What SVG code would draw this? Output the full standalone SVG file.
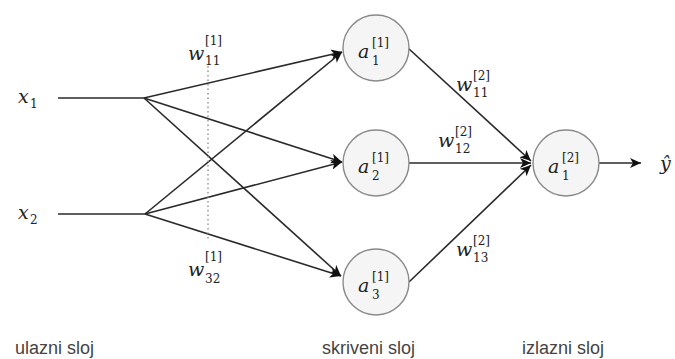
<svg xmlns="http://www.w3.org/2000/svg" width="675" height="359" viewBox="0 0 675 359">
<defs>
<marker id="arr" markerUnits="userSpaceOnUse" markerWidth="12" markerHeight="10" refX="11" refY="5" orient="auto">
<path d="M0,0 L11,5 L0,10 L3,5 Z" fill="#111"/>
</marker>
<style>
.e{stroke:#2a2a2a;stroke-width:1.6;fill:none}
.n{fill:#f5f5f5;stroke:#8a8a8a;stroke-width:1.4}
.m{font-family:'DejaVu Serif','Liberation Serif',serif;font-style:italic;fill:#222;font-size:19px}
.s{font-family:'DejaVu Serif','Liberation Serif',serif;fill:#222;font-size:12px}
.l{font-family:'Liberation Sans',Arial,sans-serif;font-size:18px;fill:#444}
</style>
</defs>
<g id="connectors">
<line class="e" x1="58" y1="98" x2="144" y2="98"/>
<line class="e" x1="58" y1="214" x2="145" y2="214"/>
<line class="e" x1="144" y1="98" x2="342" y2="52" marker-end="url(#arr)"/>
<line class="e" x1="144" y1="98" x2="342" y2="162" marker-end="url(#arr)"/>
<line class="e" x1="144" y1="98" x2="341" y2="276" marker-end="url(#arr)"/>
<line class="e" x1="145" y1="214" x2="342" y2="52" marker-end="url(#arr)"/>
<line class="e" x1="145" y1="214" x2="342" y2="162" marker-end="url(#arr)"/>
<line class="e" x1="145" y1="214" x2="341" y2="276" marker-end="url(#arr)"/>
<line class="e" x1="408" y1="48" x2="531" y2="161" marker-end="url(#arr)"/>
<line class="e" x1="409" y1="163" x2="531" y2="163" marker-end="url(#arr)"/>
<line class="e" x1="409" y1="282" x2="531" y2="165" marker-end="url(#arr)"/>
<line class="e" x1="599" y1="163" x2="641" y2="163" marker-end="url(#arr)"/>
<line x1="208" y1="66" x2="208" y2="241" stroke="#888" stroke-width="1.3" stroke-dasharray="1.5,3"/>
</g>
<g id="x1"><text class="m" x="18" y="103">x</text><text class="s" x="30" y="108">1</text></g>
<g id="x2"><text class="m" x="18" y="219">x</text><text class="s" x="30" y="224">2</text></g>
<g id="a11">
<circle class="n" cx="376" cy="48" r="33"/>
<text class="m" x="358" y="58">a</text><text class="s" x="372" y="47">[1]</text><text class="s" x="372" y="65">1</text>
</g>
<g id="a21">
<circle class="n" cx="376" cy="163" r="33"/>
<text class="m" x="358" y="173">a</text><text class="s" x="372" y="162">[1]</text><text class="s" x="372" y="180">2</text>
</g>
<g id="a31">
<circle class="n" cx="376" cy="282" r="33"/>
<text class="m" x="358" y="292">a</text><text class="s" x="372" y="281">[1]</text><text class="s" x="372" y="299">3</text>
</g>
<g id="a12">
<circle class="n" cx="566" cy="163" r="33"/>
<text class="m" x="548" y="173">a</text><text class="s" x="562" y="162">[2]</text><text class="s" x="562" y="180">1</text>
</g>
<g id="yhat"><text class="m" x="660" y="170">ŷ</text></g>
<g id="w11_1"><text class="m" x="188" y="60">w</text><text class="s" x="205" y="45">[1]</text><text class="s" x="205" y="65">11</text></g>
<g id="w32_1"><text class="m" x="188" y="276">w</text><text class="s" x="205" y="261">[1]</text><text class="s" x="205" y="283">32</text></g>
<g id="w11_2"><text class="m" x="456" y="91">w</text><text class="s" x="473" y="80">[2]</text><text class="s" x="473" y="97">11</text></g>
<g id="w12_2"><text class="m" x="438" y="147">w</text><text class="s" x="455" y="136">[2]</text><text class="s" x="455" y="153">12</text></g>
<g id="w13_2"><text class="m" x="456" y="256">w</text><text class="s" x="473" y="245">[2]</text><text class="s" x="473" y="262">13</text></g>
<g id="labels">
<text class="l" x="15" y="354">ulazni sloj</text>
<text class="l" x="322" y="354">skriveni sloj</text>
<text class="l" x="522" y="354">izlazni sloj</text>
</g>
</svg>
